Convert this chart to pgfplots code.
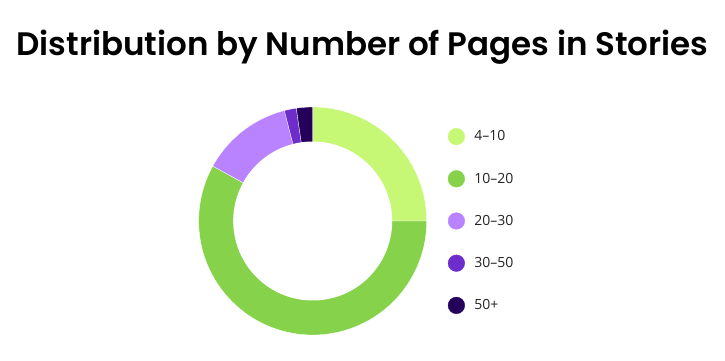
\documentclass[border=0pt]{standalone}
\usepackage{fontspec}
\setmainfont{Open Sans}
\newfontfamily\titlefont{Poppins SemiBold}
\usepackage{pgfplots}
\pgfplotsset{compat=1.18}
\definecolor{c1}{HTML}{C6F875}
\definecolor{c2}{HTML}{86D24B}
\definecolor{c3}{HTML}{B983FF}
\definecolor{c4}{HTML}{6C2DCB}
\definecolor{c5}{HTML}{24005A}
% #1 cumulative share before the slice (%), #2 share (%), #3 colour
\newcommand{\slice}[3]{%
  \addplot[fill=#3, draw=white, line width=0.3pt, forget plot,
    domain={90-3.6*(#1+#2)}:{90-3.6*(#1)}, samples=80]
    ({114*cos(x)},{114*sin(x)}) -- (axis cs:0,0) -- cycle;}
\newcommand{\legdot}[2]{%
  \addlegendimage{legend image code/.code={\fill[#1] (0pt,0pt) circle (8.3pt);}}%
  \addlegendentry{#2}}
\begin{document}
\begin{tikzpicture}
\begin{axis}[
  x=1pt, y=1pt, scale only axis,
  xmin=-312.7, xmax=412.3, ymin=-139, ymax=221,
  hide axis, clip=false,
  legend style={at={(axis cs:135,0)}, anchor=west, draw=none, fill=none,
    inner sep=0pt, row sep=25.2pt, column sep=7.5pt,
    font=\fontsize{14}{16}\selectfont\color[HTML]{222222},
    nodes={inner sep=2pt}},
  legend cell align=left,
]
% shares in percent: 4-10, 10-20, 20-30, 30-50, 50+
\slice{0}{25}{c1}
\slice{25}{58}{c2}
\slice{83}{13}{c3}
\slice{96}{1.7}{c4}
\slice{97.7}{2.3}{c5}
\addplot[fill=white, draw=none, forget plot, domain=0:360, samples=150]
  ({79.5*cos(x)},{79.5*sin(x)}) -- cycle;
\legdot{c1}{4–10}
\legdot{c2}{10–20}
\legdot{c3}{20–30}
\legdot{c4}{30–50}
\legdot{c5}{50+}
\node[anchor=base, text=black, font=\titlefont\fontsize{32.5}{38}\selectfont]
  at (axis cs:49.8,166) {Distribution by Number of Pages in Stories};
\end{axis}
\pgfresetboundingbox
\useasboundingbox (current axis.south west) rectangle (current axis.north east);
\end{tikzpicture}
\end{document}
